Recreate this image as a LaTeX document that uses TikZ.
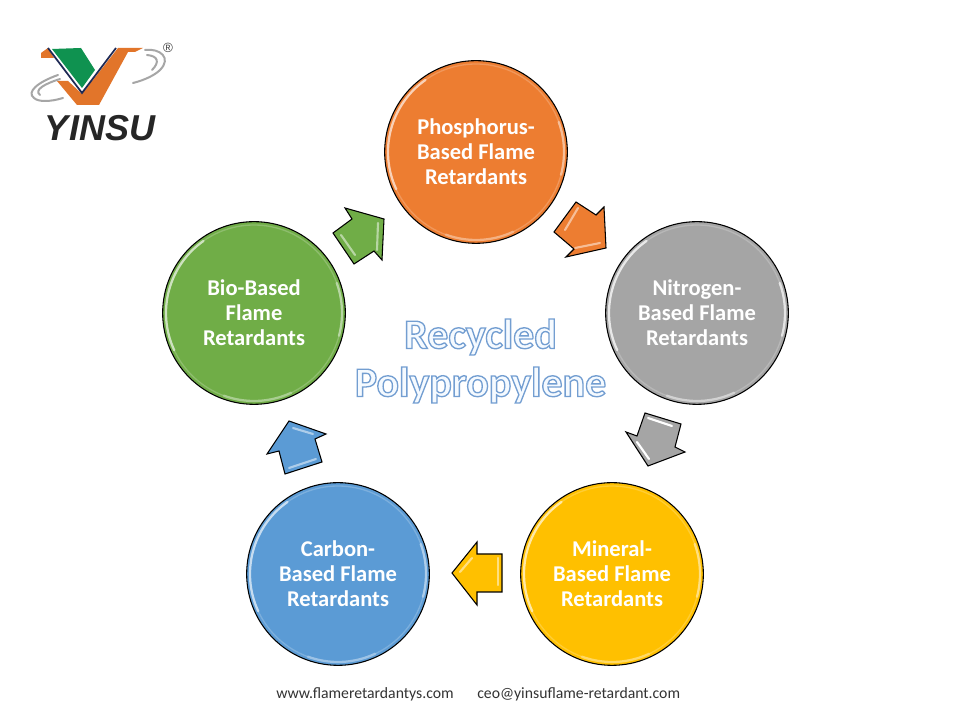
\documentclass[tikz,border=0pt]{standalone}
\usepackage{fontspec}
\setmainfont{Carlito}
\newfontfamily\logofont{Liberation Sans}
\definecolor{phoscol}{HTML}{ED7D31}
\definecolor{nitrocol}{HTML}{A5A5A5}
\definecolor{minercol}{HTML}{FFC000}
\definecolor{carboncol}{HTML}{5B9BD5}
\definecolor{biocol}{HTML}{70AD47}
\definecolor{logogreen}{HTML}{0F9250}
\definecolor{logoorange}{HTML}{E2752A}
\definecolor{logonavy}{HTML}{1F2A55}
\newcommand{\outlinetext}{\special{pdf:code 2 Tr 1.0 w 0.45 0.62 0.82 RG 0.96 0.98 1 rg}}
\newcommand{\plaintext}{\special{pdf:code 0 Tr 1 w 0 0 0 RG 0 0 0 rg}}
\tikzset{
  ball/.style={circle,draw=black,line width=0.8pt,fill=#1,minimum size=137pt,inner sep=0pt,
    text=white,align=center,font=\fontsize{16.9}{18.75}\selectfont\bfseries},
  rim/.style={draw=#1,line width=1pt},
  shine/.style={draw=#1,line width=1.7pt,line cap=round},
  block/.style={draw=black,line width=0.8pt,fill=#1,line join=miter},
  glint/.style={draw=#1,line width=1.6pt,line cap=round},
  swoosh/.style={draw=black!35,line width=1.5pt,line cap=round}
}
\begin{document}
\begin{tikzpicture}[x=0.75pt,y=0.75pt]
\useasboundingbox[fill=white] (0,0) rectangle (960,720);

% logo
\fill[logoorange] (41,667) -- (48,672) -- (54,662) -- (41,662) -- cycle;
\fill[logoorange] (57,639) -- (68,639) -- (82,626) -- (118,672) -- (143,672) -- (135,668) -- (128,668) -- (99,615) -- (77,615) -- cycle;
\fill[logogreen] (52,671) -- (81,672) -- (95,650) -- (82,632) -- cycle;
\draw[logonavy,line width=1.3pt] (48,672) -- (82,627) -- (116,672);
\draw[swoosh] (58,645) .. controls (38,638) and (26,628) .. (34,622) .. controls (38,618) and (50,618) .. (63,622);
\draw[swoosh] (60,641) .. controls (44,636) and (34,630) .. (40,625);
\draw[swoosh] (145,670) .. controls (160,672) and (172,662) .. (160,650) .. controls (155,645) and (145,640) .. (133,637);
\draw[swoosh] (147,665) .. controls (158,664) and (160,658) .. (152,650);
\node[text=black!85,font=\logofont\fontsize{27}{27}\selectfont\bfseries\itshape] (brand) at (100,592) {YINSU};
\node[text=black!75,font=\logofont\fontsize{10}{10}\selectfont] (mark) at (168,672) {\textregistered};

% circles
\node[ball=phoscol] (phos) at (476,568) {Phosphorus-\\Based Flame\\Retardants};
\node[ball=nitrocol] (nitro) at (697,407) {Nitrogen-\\Based Flame\\Retardants};
\node[ball=minercol] (miner) at (612,146) {Mineral-\\Based Flame\\Retardants};
\node[ball=carboncol] (carbon) at (338,146) {Carbon-\\Based Flame\\Retardants};
\node[ball=biocol] (bio) at (254,407) {Bio-Based\\Flame\\Retardants};

% bevels
\draw[rim=phoscol!80!white] (phos.center) ++(0:88) arc (0:360:88);
\draw[shine=phoscol!35!white] (phos.center) ++(205:88) arc (205:125:88);
\draw[shine=phoscol!50!white] (phos.center) ++(20:88) arc (20:-15:88);
\draw[shine=phoscol!60!white] (phos.center) ++(295:88) arc (295:250:88);
\draw[rim=nitrocol!80!white] (nitro.center) ++(0:88) arc (0:360:88);
\draw[shine=nitrocol!25!white] (nitro.center) ++(205:88) arc (205:125:88);
\draw[shine=nitrocol!30!white] (nitro.center) ++(20:88) arc (20:-15:88);
\draw[shine=nitrocol!50!white] (nitro.center) ++(295:88) arc (295:250:88);
\draw[rim=minercol!80!white] (miner.center) ++(0:88) arc (0:360:88);
\draw[shine=minercol!35!white] (miner.center) ++(205:88) arc (205:125:88);
\draw[shine=minercol!50!white] (miner.center) ++(20:88) arc (20:-15:88);
\draw[shine=minercol!60!white] (miner.center) ++(295:88) arc (295:250:88);
\draw[rim=carboncol!80!white] (carbon.center) ++(0:88) arc (0:360:88);
\draw[shine=carboncol!35!white] (carbon.center) ++(205:88) arc (205:125:88);
\draw[shine=carboncol!50!white] (carbon.center) ++(20:88) arc (20:-15:88);
\draw[shine=carboncol!60!white] (carbon.center) ++(295:88) arc (295:250:88);
\draw[rim=biocol!80!white] (bio.center) ++(0:88) arc (0:360:88);
\draw[shine=biocol!35!white] (bio.center) ++(205:88) arc (205:125:88);
\draw[shine=biocol!50!white] (bio.center) ++(20:88) arc (20:-15:88);
\draw[shine=biocol!60!white] (bio.center) ++(295:88) arc (295:250:88);

% block arrows
\draw[block=phoscol] (554,488) -- (576,518) -- (596,505) -- (604,513) -- (606,472) -- (566,463) -- (574,471) -- cycle;
\draw[glint=phoscol!50!white] (565,490) -- (578,512);
\draw[glint=phoscol!50!white] (575,472) -- (600,477);
\draw[block=nitrocol] (645,307) -- (681,296) -- (675,273) -- (685,268) -- (648,254) -- (626,288) -- (637,284) -- cycle;
\draw[glint=white] (648,302) -- (672,294);
\draw[glint=white] (637,278) -- (649,261);
\draw[block=minercol] (452,147) -- (477,178) -- (477,166) -- (502,166) -- (502,128) -- (477,128) -- (477,115) -- cycle;
\draw[glint=minercol!50!white] (498,162) -- (498,135);
\draw[glint=minercol!50!white] (460,148) -- (472,162);
\draw[block=carboncol] (289,299) -- (326,286) -- (315,281) -- (322,258) -- (285,246) -- (279,269) -- (267,266) -- cycle;
\draw[glint=carboncol!50!white] (293,292) -- (313,286);
\draw[glint=carboncol!50!white] (289,252) -- (316,261);
\draw[block=biocol] (345,512) -- (384,501) -- (382,460) -- (374,469) -- (354,456) -- (333,487) -- (352,501) -- cycle;
\draw[glint=biocol!50!white] (341,485) -- (355,465);
\draw[glint=biocol!50!white] (378,497) -- (377,470);

% title
\node[align=center,font=\fontsize{31.5}{36}\selectfont\bfseries] (title) at (480.5,359) {\outlinetext Recycled\\\outlinetext Polypropylene\plaintext};

% footer
\node[anchor=west,inner sep=0pt,text=black!80,font=\fontsize{11.8}{13}\selectfont] (web) at (276,26) {www.flameretardantys.com};
\node[anchor=west,inner sep=0pt,text=black!80,font=\fontsize{11.8}{13}\selectfont] (mail) at (477,26) {ceo@yinsuflame-retardant.com};
\end{tikzpicture}
\end{document}
